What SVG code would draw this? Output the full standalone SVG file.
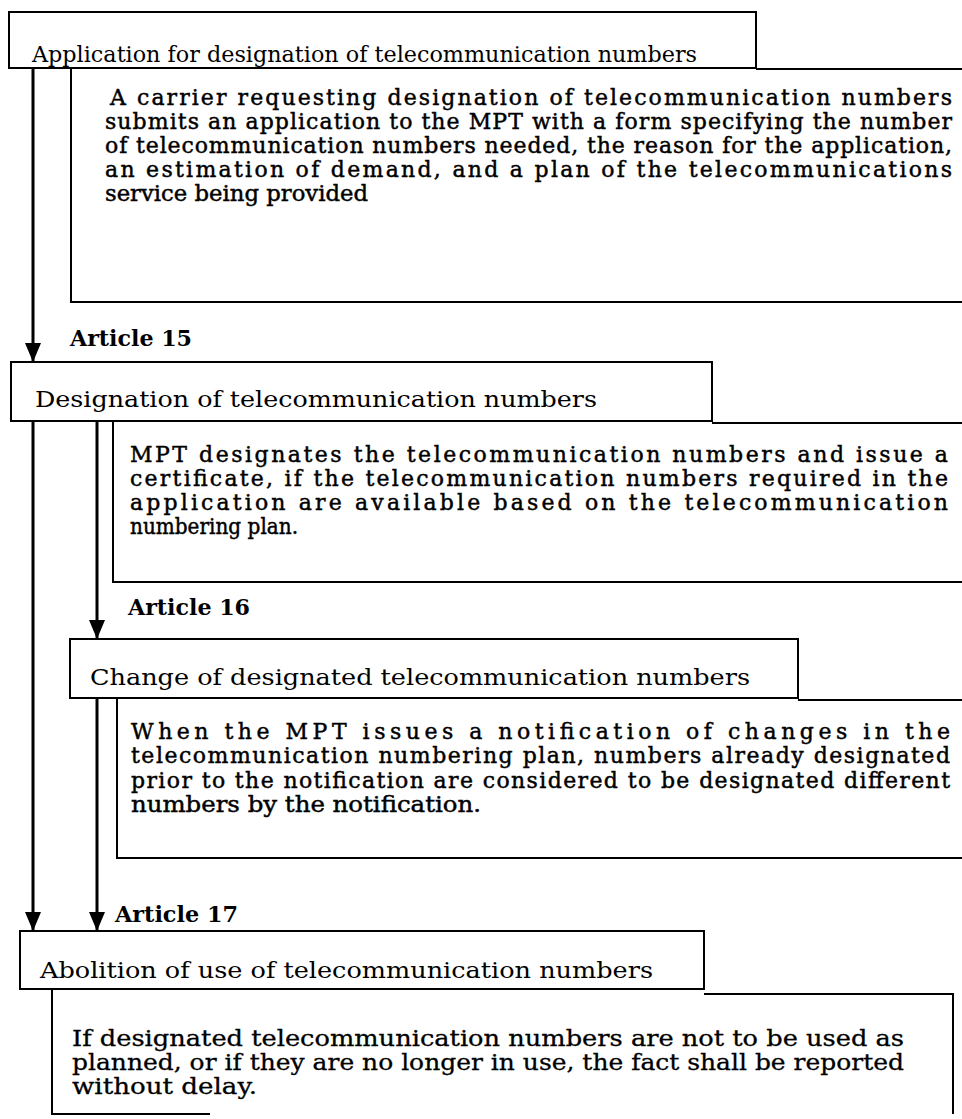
<svg xmlns="http://www.w3.org/2000/svg" width="962" height="1119" viewBox="0 0 962 1119">
  <style>
    .frame { fill: #fff; stroke: #000; stroke-width: 2; }
    .edge { fill: none; stroke: #000; stroke-width: 2; }
    .flow { fill: none; stroke: #000; stroke-width: 3; }
    .title { font-family: "DejaVu Serif", "Liberation Serif", serif; font-size: 22px; fill: #000; }
    .body { font-family: "DejaVu Serif", "Liberation Serif", serif; font-size: 22px; fill: #000; stroke: #000; stroke-width: 0.45; }
    .narrow { font-family: "DejaVu Serif", "Liberation Serif", serif; font-size: 23px; fill: #000; stroke: #000; stroke-width: 0.3; }
    .article { font-family: "DejaVu Serif", "Liberation Serif", serif; font-size: 22px; font-weight: bold; fill: #000; }
  </style>
  <defs>
    <marker id="head" viewBox="0 0 19 16" refX="19" refY="8" markerWidth="19" markerHeight="16" markerUnits="userSpaceOnUse" orient="auto">
      <path d="M0,0 L19,8 L0,16 z" fill="#000"/>
    </marker>
  </defs>

  <rect width="962" height="1119" fill="#fff"/>

  <!-- Article 14: application -->
  <g id="application">
    <path class="edge" d="M756,69 H962 M71,68 V302 H962"/>
    <rect class="frame" x="9" y="12" width="747" height="56"/>
    <text class="title" x="32" y="62" textLength="665" lengthAdjust="spacingAndGlyphs">Application for designation of telecommunication numbers</text>
    <text class="body" x="110" y="105" textLength="842" lengthAdjust="spacing">A carrier requesting designation of telecommunication numbers</text>
    <text class="body" x="105" y="129" textLength="847" lengthAdjust="spacing">submits an application to the MPT with a form specifying the number</text>
    <text class="body" x="105" y="153" textLength="847" lengthAdjust="spacing">of telecommunication numbers needed, the reason for the application,</text>
    <text class="body" x="105" y="177" textLength="847" lengthAdjust="spacing">an estimation of demand, and a plan of the telecommunications</text>
    <text class="body" x="105" y="201" textLength="263" lengthAdjust="spacingAndGlyphs">service being provided</text>
  </g>

  <!-- Article 15: designation -->
  <g id="designation">
    <text class="article" x="70" y="346" textLength="122" lengthAdjust="spacingAndGlyphs">Article 15</text>
    <path class="edge" d="M712,423 H962 M113,421 V582 H962"/>
    <rect class="frame" x="11" y="362" width="701" height="59"/>
    <text class="title" x="35" y="407" textLength="562" lengthAdjust="spacingAndGlyphs">Designation of telecommunication numbers</text>
    <text class="body" x="130" y="462" textLength="818" lengthAdjust="spacing">MPT designates the telecommunication numbers and issue a</text>
    <text class="body" x="130" y="486" textLength="818" lengthAdjust="spacing">certificate, if the telecommunication numbers required in the</text>
    <text class="body" x="130" y="510" textLength="818" lengthAdjust="spacing">application are available based on the telecommunication</text>
    <text class="body" x="130" y="534" textLength="168" lengthAdjust="spacingAndGlyphs">numbering plan.</text>
  </g>

  <!-- Article 16: change -->
  <g id="change">
    <text class="article" x="128" y="615" textLength="122" lengthAdjust="spacingAndGlyphs">Article 16</text>
    <path class="edge" d="M798,700 H962 M117,698 V858 H962"/>
    <rect class="frame" x="70" y="639" width="728" height="59"/>
    <text class="title" x="90" y="685" textLength="660" lengthAdjust="spacingAndGlyphs">Change of designated telecommunication numbers</text>
    <text class="body" x="131" y="739" textLength="819" lengthAdjust="spacing">When the MPT issues a notification of changes in the</text>
    <text class="body" x="131" y="763" textLength="819" lengthAdjust="spacing">telecommunication numbering plan, numbers already designated</text>
    <text class="body" x="131" y="788" textLength="819" lengthAdjust="spacing">prior to the notification are considered to be designated different</text>
    <text class="body" x="131" y="812" textLength="350" lengthAdjust="spacingAndGlyphs">numbers by the notification.</text>
  </g>

  <!-- Article 17: abolition -->
  <g id="abolition">
    <text class="article" x="115" y="922" textLength="123" lengthAdjust="spacingAndGlyphs">Article 17</text>
    <path class="edge" d="M704,994 H953 V1114 M52,989 V1114 H210"/>
    <rect class="frame" x="20" y="931" width="684" height="58"/>
    <text class="title" x="40" y="978" textLength="613" lengthAdjust="spacingAndGlyphs">Abolition of use of telecommunication numbers</text>
    <text class="narrow" x="72" y="1046" textLength="832" lengthAdjust="spacingAndGlyphs">If designated telecommunication numbers are not to be used as</text>
    <text class="narrow" x="72" y="1070" textLength="832" lengthAdjust="spacingAndGlyphs">planned, or if they are no longer in use, the fact shall be reported</text>
    <text class="narrow" x="72" y="1094" textLength="185" lengthAdjust="spacingAndGlyphs">without delay.</text>
  </g>

  <!-- flow arrows between the steps -->
  <g id="connectors">
    <line class="flow" x1="33" y1="68" x2="33" y2="362" marker-end="url(#head)"/>
    <line class="flow" x1="97" y1="421" x2="97" y2="639" marker-end="url(#head)"/>
    <line class="flow" x1="97" y1="698" x2="97" y2="931" marker-end="url(#head)"/>
    <line class="flow" x1="33" y1="421" x2="33" y2="931" marker-end="url(#head)"/>
  </g>
</svg>
